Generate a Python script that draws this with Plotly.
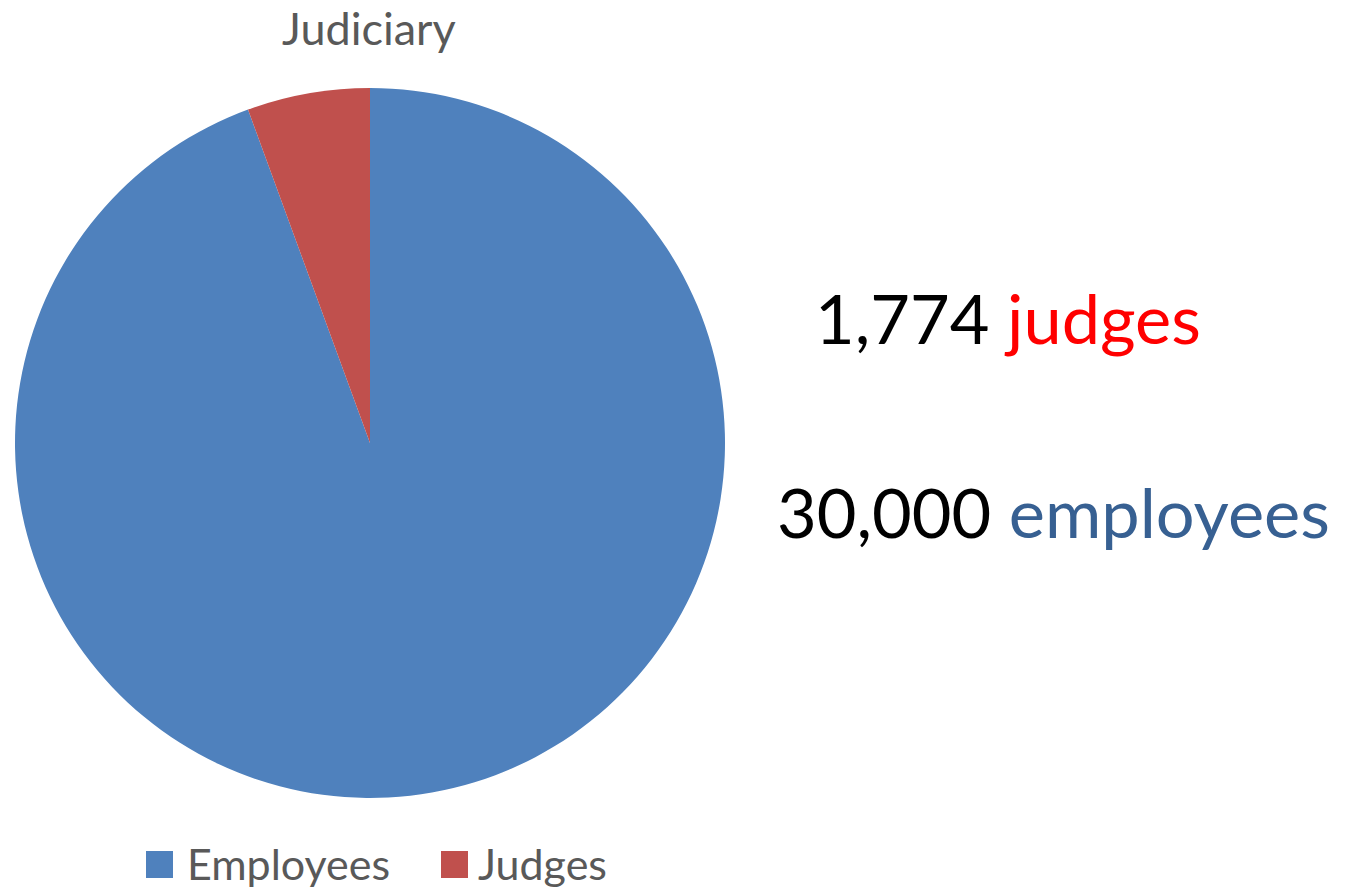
import plotly.graph_objects as go

categories = ["Employees", "Judges"]
values = [30000, 1774]
colors = ["#4F81BD", "#C0504D"]
title_text = "Judiciary"
note_judges = "1,774 <span style='color:#FF0000'>judges</span>"
note_employees = "30,000 <span style='color:#376092'>employees</span>"

W, H = 1351, 889
FONT = "Lato"

def px(x):
    return x / W

def py(y):
    return 1 - y / H

fig = go.Figure()
fig.add_trace(go.Pie(
    labels=categories,
    values=values,
    marker=dict(colors=colors, line=dict(width=0)),
    sort=False,
    direction="clockwise",
    rotation=0,
    textinfo="none",
    hoverinfo="label+value",
    showlegend=False,
    domain=dict(x=[px(15), px(725)], y=[py(798), py(88)]),
))

annotations = [
    dict(text=title_text, x=px(369), y=py(28), xref="paper", yref="paper",
         xanchor="center", yanchor="middle", showarrow=False,
         font=dict(family=FONT, size=45, color="#595959")),
    dict(text=note_judges, x=px(813), y=py(317), xref="paper", yref="paper",
         xanchor="left", yanchor="middle", showarrow=False,
         font=dict(family=FONT, size=68.5, color="#000000")),
    dict(text=note_employees, x=px(775), y=py(511), xref="paper", yref="paper",
         xanchor="left", yanchor="middle", showarrow=False,
         font=dict(family=FONT, size=68.5, color="#000000")),
]
shapes = []
legend_sq_x = [146, 441]
legend_tx_x = [185, 476]
for i, (cat, col) in enumerate(zip(categories, colors)):
    shapes.append(dict(type="rect", xref="paper", yref="paper",
                       x0=px(legend_sq_x[i]), x1=px(legend_sq_x[i] + 27),
                       y0=py(878), y1=py(851), fillcolor=col, line=dict(width=0)))
    annotations.append(dict(text=cat, x=px(legend_tx_x[i]), y=py(863),
                            xref="paper", yref="paper", xanchor="left",
                            yanchor="middle", showarrow=False,
                            font=dict(family=FONT, size=43, color="#595959")))

fig.update_layout(
    width=W, height=H,
    margin=dict(l=0, r=0, t=0, b=0),
    paper_bgcolor="white",
    plot_bgcolor="white",
    annotations=annotations,
    shapes=shapes,
)
fig.write_html("out.html")
